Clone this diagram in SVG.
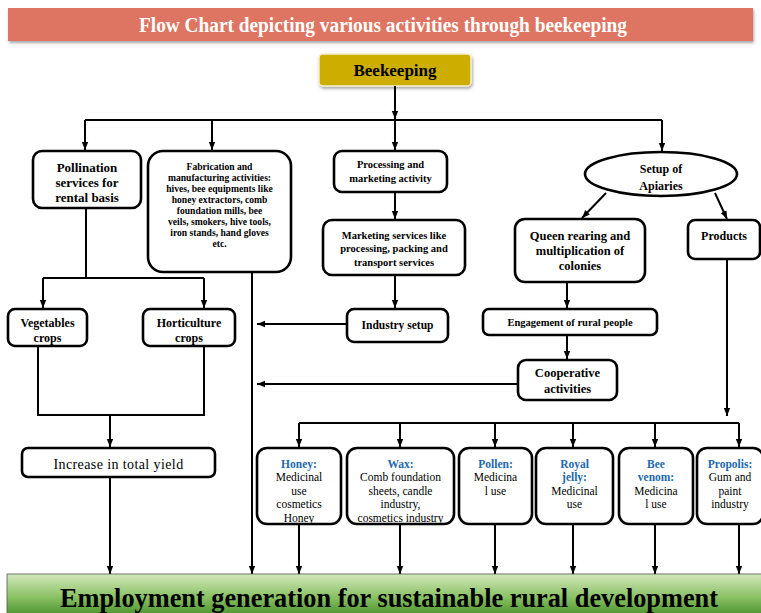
<svg xmlns="http://www.w3.org/2000/svg" width="761" height="613" viewBox="0 0 761 613">
<style>
.box{fill:#fff;stroke:#000;stroke-width:2.6}
.ln{fill:none;stroke:#000;stroke-width:2}
.b{font-family:"Liberation Serif","Times New Roman",serif;font-weight:bold;fill:#000;text-anchor:middle}
.r{font-family:"Liberation Serif","Times New Roman",serif;fill:#000;text-anchor:middle}
.t{font-family:"Liberation Serif","Times New Roman",serif;font-weight:bold;fill:#2169ad;text-anchor:middle}
.p{font-size:11.5px}
</style>
<defs>
<marker id="ah" markerUnits="userSpaceOnUse" markerWidth="8" markerHeight="8" viewBox="0 0 8 8" refX="8" refY="4" orient="auto">
<path d="M0,0.8 L8,4 L0,7.2 Z" fill="#000"/>
</marker>
<linearGradient id="grn" x1="0" y1="0" x2="0" y2="1">
<stop offset="0" stop-color="#d3e8bd"/>
<stop offset="0.5" stop-color="#8cc266"/>
<stop offset="1" stop-color="#3d8b22"/>
</linearGradient>
<filter id="sh" x="-5%" y="-20%" width="110%" height="150%">
<feDropShadow dx="1" dy="2" stdDeviation="1.5" flood-color="#000" flood-opacity="0.35"/>
</filter>
</defs>

<g id="title">
<rect x="8" y="8" width="745" height="33" fill="#de7462" filter="url(#sh)"/>
<text x="383" y="32" class="b" style="fill:#fff;font-size:20px" textLength="488" lengthAdjust="spacingAndGlyphs">Flow Chart depicting various activities through beekeeping</text>
</g>

<g id="beekeeping">
<rect x="319" y="54" width="152" height="32" rx="4" fill="#ccad00" stroke="#f2eed0" stroke-width="1.5" filter="url(#sh)"/>
<text x="395" y="76" class="b" style="font-size:16px" textLength="83" lengthAdjust="spacingAndGlyphs">Beekeeping</text>
</g>

<g id="connectors">
<path class="ln" d="M395,86 V119" marker-end="url(#ah)"/>
<path class="ln" d="M85,120 H662"/>
<path class="ln" d="M85,120 V150" marker-end="url(#ah)"/>
<path class="ln" d="M212,120 V150" marker-end="url(#ah)"/>
<path class="ln" d="M395,120 V150" marker-end="url(#ah)"/>
<path class="ln" d="M662,120 V151" marker-end="url(#ah)"/>
<path class="ln" d="M395,192 V219" marker-end="url(#ah)"/>
<path class="ln" d="M395,275 V308" marker-end="url(#ah)"/>
<path class="ln" d="M347,324 H257" marker-end="url(#ah)"/>
<path class="ln" d="M86,208 V278 M43,278 H204"/>
<path class="ln" d="M43,278 V308" marker-end="url(#ah)"/>
<path class="ln" d="M204,278 V308" marker-end="url(#ah)"/>
<path class="ln" d="M38,347 V415 H204 V347"/>
<path class="ln" d="M110,415 V447" marker-end="url(#ah)"/>
<path class="ln" d="M110,477 V574" marker-end="url(#ah)"/>
<path class="ln" d="M252,272 V574" marker-end="url(#ah)"/>
<path class="ln" d="M606,193 L582,218" marker-end="url(#ah)"/>
<path class="ln" d="M715,193 L727,219" marker-end="url(#ah)"/>
<path class="ln" d="M567,282 V308" marker-end="url(#ah)"/>
<path class="ln" d="M567,335 V359" marker-end="url(#ah)"/>
<path class="ln" d="M518,384 H257" marker-end="url(#ah)"/>
<path class="ln" d="M727,259 V416" marker-end="url(#ah)"/>
<path class="ln" d="M299,423 H739"/>
<path class="ln" d="M299,423 V447" marker-end="url(#ah)"/>
<path class="ln" d="M400,423 V447" marker-end="url(#ah)"/>
<path class="ln" d="M495,423 V447" marker-end="url(#ah)"/>
<path class="ln" d="M573,423 V447" marker-end="url(#ah)"/>
<path class="ln" d="M655,423 V447" marker-end="url(#ah)"/>
<path class="ln" d="M739,423 V447" marker-end="url(#ah)"/>
<path class="ln" d="M299,524 V574" marker-end="url(#ah)"/>
<path class="ln" d="M400,524 V574" marker-end="url(#ah)"/>
<path class="ln" d="M495,524 V574" marker-end="url(#ah)"/>
<path class="ln" d="M573,524 V574" marker-end="url(#ah)"/>
<path class="ln" d="M655,524 V574" marker-end="url(#ah)"/>
<path class="ln" d="M739,524 V574" marker-end="url(#ah)"/>
</g>

<g id="pollination">
<rect class="box" x="33" y="151" width="108" height="57" rx="9"/>
<text class="b" style="font-size:13px"><tspan x="87" y="172">Pollination</tspan><tspan x="87" y="187">services for</tspan><tspan x="87" y="202">rental basis</tspan></text>
</g>

<g id="fabrication">
<rect class="box" x="148" y="151" width="143" height="121" rx="15"/>
<text class="b" style="font-size:9.6px"><tspan x="219.5" y="170">Fabrication and</tspan><tspan x="219.5" y="181">manufacturing activities:</tspan><tspan x="219.5" y="192">hives, bee equipments like</tspan><tspan x="219.5" y="203">honey extractors, comb</tspan><tspan x="219.5" y="214">foundation mills, bee</tspan><tspan x="219.5" y="225">veils, smokers, hive tools,</tspan><tspan x="219.5" y="236">iron stands, hand gloves</tspan><tspan x="219.5" y="247">etc.</tspan></text>
</g>

<g id="processing">
<rect class="box" x="334" y="151" width="113" height="41" rx="8"/>
<text class="b" style="font-size:10.5px"><tspan x="390.5" y="168">Processing and</tspan><tspan x="390.5" y="182">marketing activity</tspan></text>
</g>

<g id="marketing">
<rect class="box" x="323" y="220" width="142" height="55" rx="9"/>
<text class="b" style="font-size:10.5px"><tspan x="394" y="239">Marketing services like</tspan><tspan x="394" y="252">processing, packing and</tspan><tspan x="394" y="266">transport services</tspan></text>
</g>

<g id="setup">
<ellipse cx="661" cy="174" rx="76" ry="22" fill="#fff" stroke="#000" stroke-width="2.6"/>
<text class="b" style="font-size:12px"><tspan x="661" y="173">Setup of</tspan><tspan x="661" y="190">Apiaries</tspan></text>
</g>

<g id="queen">
<rect class="box" x="515" y="219" width="130" height="63" rx="10"/>
<text class="b" style="font-size:12.5px"><tspan x="580" y="240">Queen rearing and</tspan><tspan x="580" y="255">multiplication of</tspan><tspan x="580" y="270">colonies</tspan></text>
</g>

<g id="products">
<rect class="box" x="688" y="220" width="72" height="39" rx="7"/>
<text class="b" style="font-size:12px" x="724" y="240">Products</text>
</g>

<g id="vegetables">
<rect class="box" x="8" y="309" width="79" height="37" rx="7"/>
<text class="b" style="font-size:12px"><tspan x="47.5" y="327">Vegetables</tspan><tspan x="47.5" y="342">crops</tspan></text>
</g>

<g id="horticulture">
<rect class="box" x="143" y="309" width="92" height="37" rx="7"/>
<text class="b" style="font-size:12px"><tspan x="189" y="327">Horticulture</tspan><tspan x="189" y="342">crops</tspan></text>
</g>

<g id="industry">
<rect class="box" x="347" y="309" width="101" height="33" rx="7"/>
<text class="b" style="font-size:11.5px" x="397.5" y="329">Industry setup</text>
</g>

<g id="engagement">
<rect class="box" x="483" y="309" width="174" height="26" rx="6"/>
<text class="b" style="font-size:10.5px" x="570" y="326">Engagement of rural people</text>
</g>

<g id="cooperative">
<rect class="box" x="518" y="360" width="99" height="40" rx="8"/>
<text class="b" style="font-size:12.5px"><tspan x="567.5" y="377">Cooperative</tspan><tspan x="567.5" y="393">activities</tspan></text>
</g>

<g id="increase">
<rect class="box" x="22" y="448" width="193" height="29" rx="6"/>
<text class="r" style="font-size:14px;letter-spacing:0.4px" x="118.5" y="469">Increase in total yield</text>
</g>

<g id="honey">
<rect class="box" x="257" y="448" width="84" height="76" rx="10"/>
<text class="t p" x="299" y="468">Honey:</text>
<text class="r p"><tspan x="299" y="481">Medicinal</tspan><tspan x="299" y="495">use</tspan><tspan x="299" y="508">cosmetics</tspan><tspan x="299" y="522">Honey</tspan></text>
</g>

<g id="wax">
<rect class="box" x="347" y="448" width="107" height="76" rx="10"/>
<text class="t p" x="400.5" y="468">Wax:</text>
<text class="r p"><tspan x="400.5" y="481">Comb foundation</tspan><tspan x="400.5" y="495">sheets, candle</tspan><tspan x="400.5" y="508">industry,</tspan><tspan x="400.5" y="522">cosmetics industry</tspan></text>
</g>

<g id="pollen">
<rect class="box" x="459" y="448" width="73" height="76" rx="10"/>
<text class="t p" x="495.5" y="468">Pollen:</text>
<text class="r p"><tspan x="495.5" y="481">Medicina</tspan><tspan x="495.5" y="495">l use</tspan></text>
</g>

<g id="royaljelly">
<rect class="box" x="536" y="448" width="77" height="76" rx="10"/>
<text class="t p"><tspan x="574.5" y="468">Royal</tspan><tspan x="574.5" y="481">jelly:</tspan></text>
<text class="r p"><tspan x="574.5" y="495">Medicinal</tspan><tspan x="574.5" y="508">use</tspan></text>
</g>

<g id="beevenom">
<rect class="box" x="619" y="448" width="74" height="76" rx="10"/>
<text class="t p"><tspan x="656" y="468">Bee</tspan><tspan x="656" y="481">venom:</tspan></text>
<text class="r p"><tspan x="656" y="495">Medicina</tspan><tspan x="656" y="508">l use</tspan></text>
</g>

<g id="propolis">
<rect class="box" x="697" y="448" width="66" height="76" rx="10"/>
<text class="t p" x="730" y="468">Propolis:</text>
<text class="r p"><tspan x="730" y="481">Gum and</tspan><tspan x="730" y="495">paint</tspan><tspan x="730" y="508">industry</tspan></text>
</g>

<g id="employment">
<rect x="7" y="574" width="760" height="45" fill="url(#grn)" stroke="#555" stroke-width="0.8"/>
<text class="b" style="font-size:27px" x="389" y="607" textLength="658" lengthAdjust="spacingAndGlyphs">Employment generation for sustainable rural development</text>
</g>
</svg>
